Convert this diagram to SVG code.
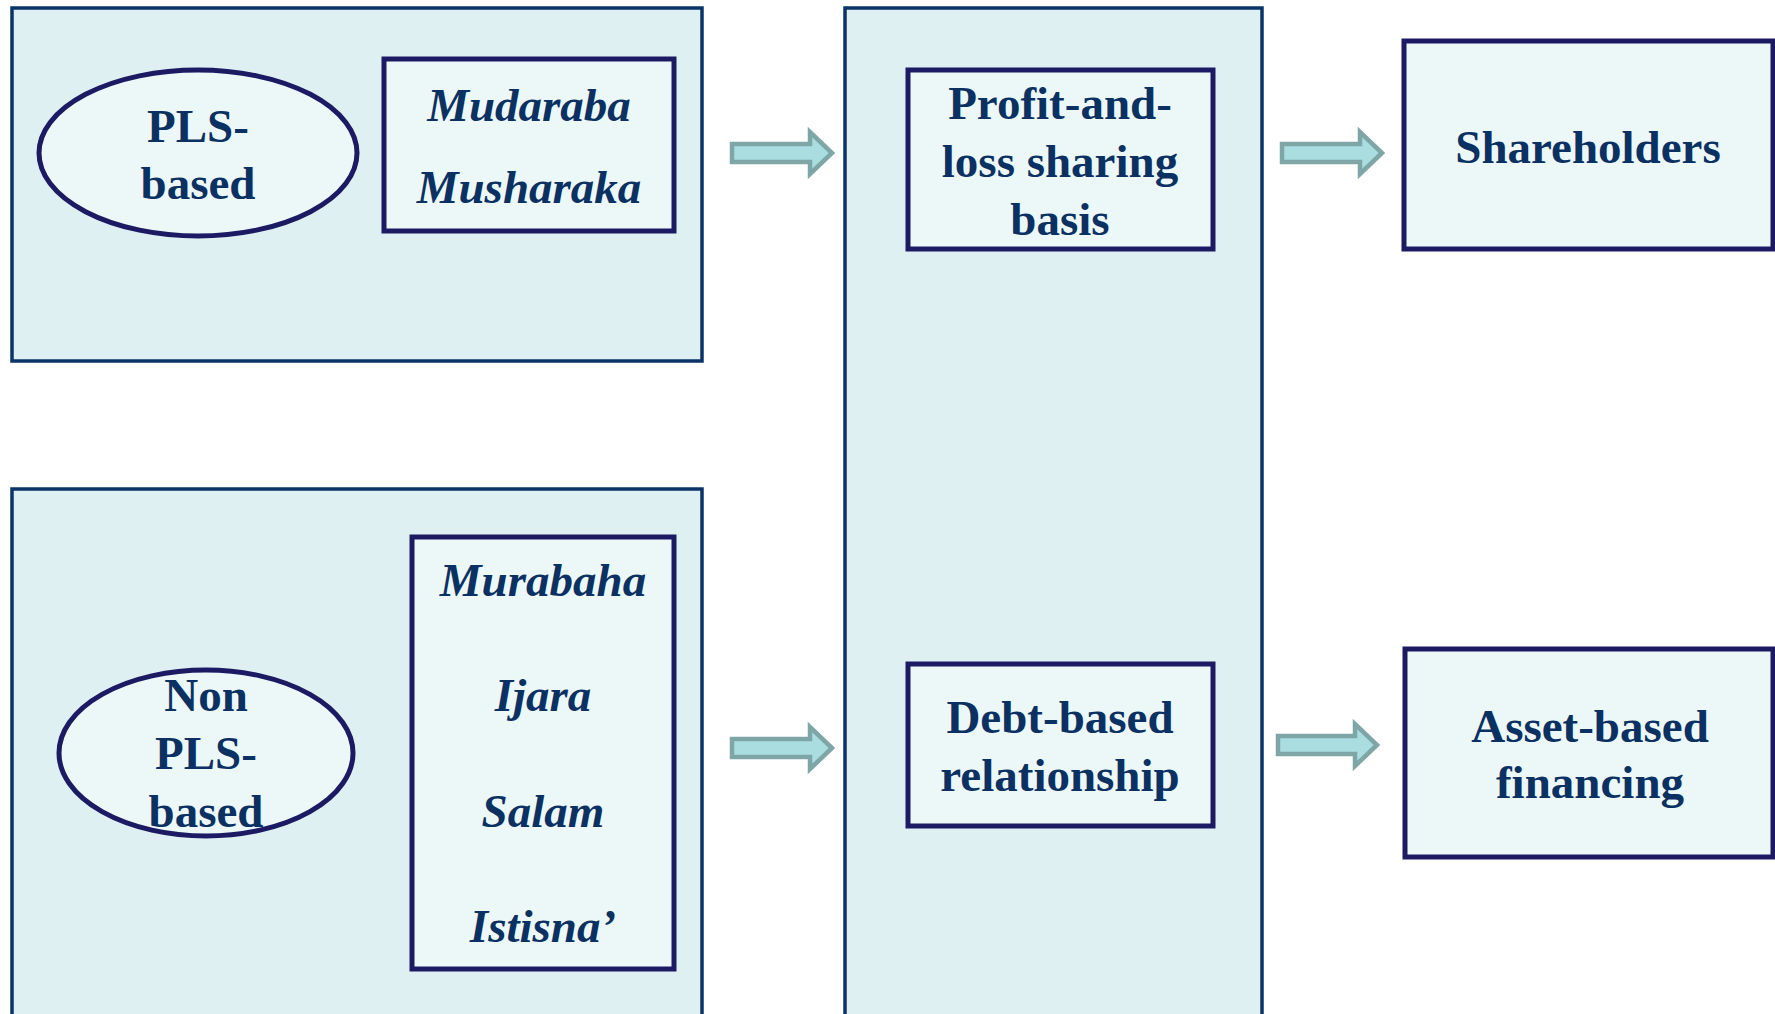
<svg xmlns="http://www.w3.org/2000/svg" width="1775" height="1014" viewBox="0 0 1775 1014">
<style>
.outer{fill:#dff0f3;stroke:#0a3467;stroke-width:3.5}
.inner{fill:#ecf8f8;stroke:#1c1a63;stroke-width:5}
.t{font-family:"Liberation Serif","Times New Roman",serif;font-weight:bold;font-size:47px;fill:#0b3163;text-anchor:middle}
.i{font-style:italic}
.arr{fill:#a9dde0;stroke:#7fa6a6;stroke-width:4.5;stroke-linejoin:miter}
</style>
<rect width="1775" height="1014" fill="#ffffff"/>
<g id="pls-group">
<rect class="outer" x="12" y="8" width="690" height="353"/>
</g>
<g id="nonpls-group">
<rect class="outer" x="12" y="489" width="690" height="535"/>
</g>
<g id="center-group">
<rect class="outer" x="845" y="8" width="417" height="1016"/>
</g>
<g id="pls-based">
<ellipse class="inner" cx="198" cy="153" rx="159" ry="83"/>
<text class="t" x="198" y="142">PLS-</text>
<text class="t" x="198" y="199">based</text>
</g>
<g id="pls-contracts">
<rect class="inner" x="384" y="59" width="290" height="172"/>
<text class="t i" x="529" y="121">Mudaraba</text>
<text class="t i" x="529" y="203">Musharaka</text>
</g>
<g id="nonpls-based">
<ellipse class="inner" cx="206" cy="753" rx="147" ry="83"/>
<text class="t" x="206" y="711">Non</text>
<text class="t" x="206" y="769">PLS-</text>
<text class="t" x="206" y="827">based</text>
</g>
<g id="nonpls-contracts">
<rect class="inner" x="412" y="537" width="262" height="432"/>
<text class="t i" x="543" y="596">Murabaha</text>
<text class="t i" x="543" y="711">Ijara</text>
<text class="t i" x="543" y="827">Salam</text>
<text class="t i" x="543" y="942">Istisna’</text>
</g>
<g id="pls-basis">
<rect class="inner" x="908" y="70" width="305" height="179"/>
<text class="t" x="1060" y="119">Profit-and-</text>
<text class="t" x="1060" y="177">loss sharing</text>
<text class="t" x="1060" y="235">basis</text>
</g>
<g id="debt-based">
<rect class="inner" x="908" y="664" width="305" height="162"/>
<text class="t" x="1060" y="733">Debt-based</text>
<text class="t" x="1060" y="791">relationship</text>
</g>
<g id="shareholders">
<rect class="inner" x="1404" y="41" width="369" height="208"/>
<text class="t" x="1588" y="163">Shareholders</text>
</g>
<g id="asset-based">
<rect class="inner" x="1405" y="649" width="368" height="208"/>
<text class="t" x="1590" y="742">Asset-based</text>
<text class="t" x="1590" y="798">financing</text>
</g>
<g id="connectors">
<polygon class="arr" points="732,144 810,144 810,132 832,153 810,174 810,162 732,162"/>
<polygon class="arr" points="1282,144 1360,144 1360,132 1382,153 1360,174 1360,162 1282,162"/>
<polygon class="arr" points="732,739 810,739 810,727 832,748 810,769 810,757 732,757"/>
<polygon class="arr" points="1278,736 1355,736 1355,724 1377,745 1355,766 1355,754 1278,754"/>
</g>
</svg>
